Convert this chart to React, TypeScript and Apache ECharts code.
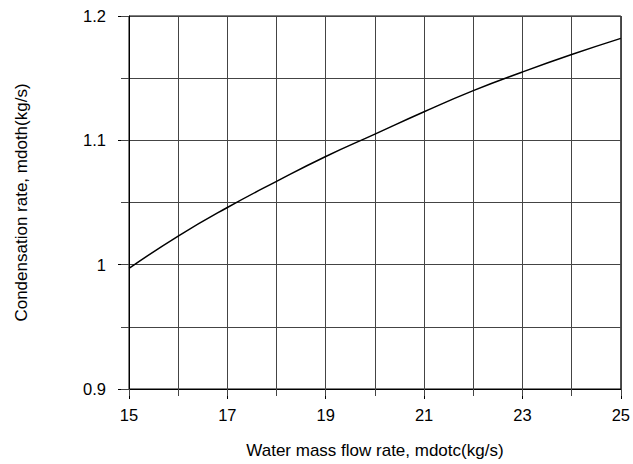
import React, { useEffect, useRef } from "react";
import * as echarts from "echarts";

const flowRate = [15, 16, 17, 18, 19, 20, 21, 22, 23, 24, 25];
const condensation = [0.997, 1.023, 1.046, 1.067, 1.087, 1.105, 1.123, 1.14, 1.155, 1.169, 1.182];
const xTitle = "Water mass flow rate, mdotc(kg/s)";
const yTitle = "Condensation rate, mdoth(kg/s)";

const FONT = "Liberation Sans, Arial, sans-serif";

export default function App() {
  const ref = useRef<HTMLDivElement>(null);
  useEffect(() => {
    if (!ref.current) return;
    const chart = echarts.init(ref.current, undefined, { renderer: "svg" });
    const gridColor = "#444";
    chart.setOption({
      animation: false,
      backgroundColor: "#fff",
      grid: {
        left: 129,
        top: 16,
        right: 10,
        bottom: 73,
        show: true,
        borderColor: "#000",
        borderWidth: 1,
        backgroundColor: "transparent",
      },
      xAxis: [
        {
          type: "value",
          min: 15,
          max: 25,
          interval: 2,
          position: "bottom",
          name: xTitle,
          nameLocation: "middle",
          nameGap: 53,
          nameTextStyle: { fontFamily: FONT, fontSize: 17, color: "#000", verticalAlign: "top" },
          axisLine: { show: true, onZero: false, lineStyle: { color: "#000", width: 1 } },
          axisTick: { show: true, length: 10, lineStyle: { color: "#000" } },
          axisLabel: { margin: 17, fontFamily: FONT, fontSize: 16.5, color: "#000" },
          splitLine: { show: false },
        },
        {
          type: "value",
          min: 15,
          max: 25,
          interval: 1,
          position: "bottom",
          axisLine: { show: false, onZero: false },
          axisTick: { show: true, length: 7, lineStyle: { color: gridColor } },
          axisLabel: { show: false },
          splitLine: { show: true, lineStyle: { color: gridColor, width: 1 } },
        },
      ],
      yAxis: [
        {
          type: "value",
          min: 0.9,
          max: 1.2,
          interval: 0.1,
          position: "left",
          name: yTitle,
          nameLocation: "middle",
          nameGap: 99,
          nameRotate: 90,
          nameTextStyle: { fontFamily: FONT, fontSize: 17, color: "#000" },
          axisLine: { show: true, onZero: false, lineStyle: { color: "#000", width: 1 } },
          axisTick: { show: true, length: 11, lineStyle: { color: "#000" } },
          axisLabel: {
            margin: 23,
            fontFamily: FONT,
            fontSize: 16.5,
            color: "#000",
            formatter: (v: number) => String(Math.round(v * 10) / 10),
          },
          splitLine: { show: false },
        },
        {
          type: "value",
          min: 0.9,
          max: 1.2,
          interval: 0.05,
          position: "left",
          axisLine: { show: false, onZero: false },
          axisTick: { show: true, length: 8, lineStyle: { color: gridColor } },
          axisLabel: { show: false },
          splitLine: { show: true, lineStyle: { color: gridColor, width: 1 } },
        },
      ],
      series: [
        {
          type: "line",
          xAxisIndex: 0,
          yAxisIndex: 0,
          data: flowRate.map((x, i) => [x, condensation[i]]),
          smooth: true,
          showSymbol: false,
          symbol: "none",
          lineStyle: { color: "#000", width: 1.5 },
          z: 10,
        },
      ],
    });
    return () => chart.dispose();
  }, []);
  return (
    <div
      ref={ref}
      style={{ position: "fixed", left: 0, top: 0, width: 633, height: 464 }}
    />
  );
}
